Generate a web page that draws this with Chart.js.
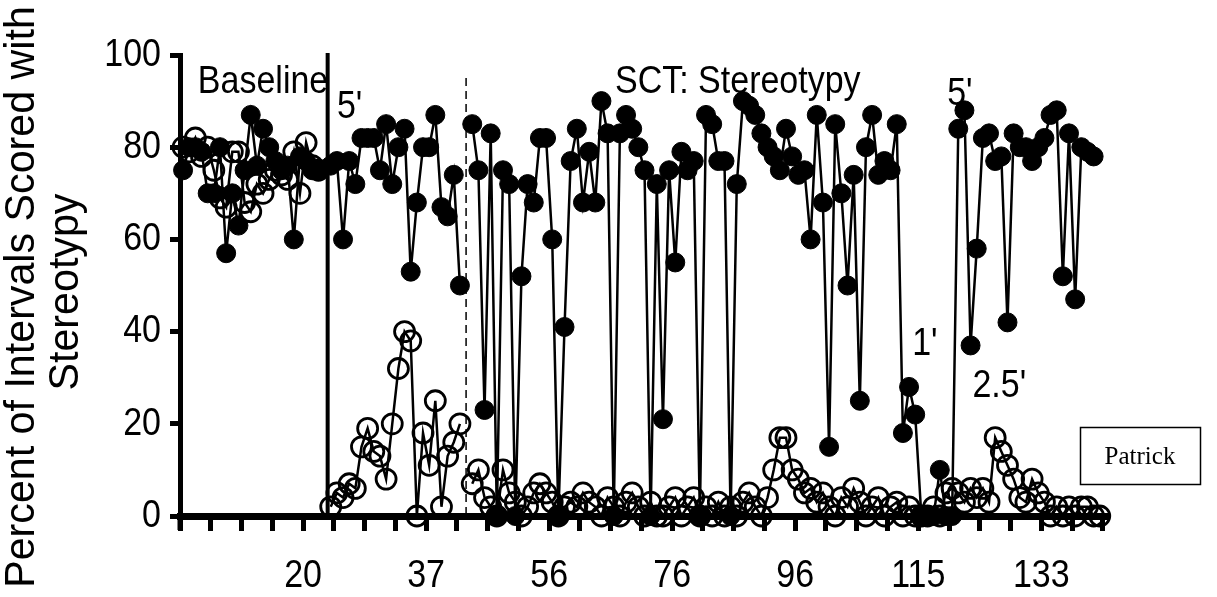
<!DOCTYPE html>
<html>
<head>
<meta charset="utf-8">
<script src="https://cdn.jsdelivr.net/npm/chart.js@4.4.1/dist/chart.umd.min.js"></script>
<style>
  html, body { margin: 0; padding: 0; background: #fff; }
</style>
</head>
<body>
<canvas id="chart" width="1217" height="597"></canvas>
<script>
// Session-by-session percentages, one slot per category (null = phase break)
const filledPct = [
  75, 80, 80, 79, 70, 70, 80, 57, 70, 63, 75, 87, 76, 84, 80, 77, 75, 76, 60, 78, 77, 75, 75,
  null,
  76, 77, 60, 77, 72, 82, 82, 82, 75, 85, 72, 80, 84, 53, 68, 80, 80, 87, 67, 65, 74, 50,
  null,
  85, 75, 23, 83, 0, 75, 72, 0, 52, 72, 68,
  82, 82, 60, 0, 41, 77, 84, 68, 79, 68,
  90, 83, 0, 83, 87, 84, 80, 75, 0, 72,
  21, 75, 55, 79, 75, 77, 0, 87, 85, 77,
  77, 0, 72, 90, 89, 87, 83, 80, 78, 75,
  84, 78, 74, 75, 60, 87, 68, 15, 85, 70,
  50, 74, 25, 80, 87, 74, 77, 75, 85, 18,
  28, 22, 0, 0, 0, 10, 0, 0, 84, 88,
  37, 58, 82, 83, 77, 78, 42, 83, 80, 80,
  77, 80, 82, 87, 88, 52, 83, 47, 80, 79, 78,
  null
];

const openPct = [
  80, 79, 82, 78, 80, 75, 69, 67, 79, 79, 68, 66, 72, 70, 73, 75, 74, 73, 79, 70, 81, 76, 75,
  null,
  2, 5, 4, 7, 6, 15, 19, 14, 13, 8, 20, 32, 40, 38, 0, 18, 11, 25, 2, 13, 16, 20,
  null,
  7, 10, 4, 2, 0, 10, 5, 3, 0, 2,
  5, 7, 5, 3, 0, 2, 3, 2, 5, 3,
  2, 0, 4, 2, 0, 3, 5, 2, 0, 3,
  0, 0, 2, 4, 0, 2, 4, 0, 2, 0,
  3, 0, 2, 0, 3, 5, 2, 0, 4, 10,
  17, 17, 10, 8, 5, 6, 3, 5, 2, 0,
  4, 2, 6, 3, 0, 2, 4, 0, 2, 3,
  0, 2, 0, 0, 0, 2, 0, 5, 6, 5,
  3, 6, 4, 6, 3, 17, 14, 11, 8, 4,
  3, 8, 5, 3, 0, 2, 0, 2, 0, 2,
  2, 0, 0
];

// Category axis: tick marks every 5 slots, session labels every 20
const tickSlots = [0, 5, 10, 15, 20, 25, 30, 35, 40, 45, 50, 55, 60, 65, 70, 75,
  80, 85, 90, 95, 100, 105, 110, 115, 120, 125, 130, 135, 140, 145, 150];
const labelSlots = [20, 40, 60, 80, 100, 120, 140];
const sessionLabels = ['20', '37', '56', '76', '96', '115', '133'];

// Phase change lines (slot positions) and condition notes
const phaseSolid = 24;
const phaseDashed = 46.5;
const notes = [
  { text: 'Baseline', x: 2.9, y: 91.8 },
  { text: "5'", x: 25.5, y: 86.3 },
  { text: 'SCT: Stereotypy', x: 70.7, y: 91.8 },
  { text: "5'", x: 124.7, y: 89.2 },
  { text: "1'", x: 119, y: 34.9 },
  { text: "2.5'", x: 128.8, y: 25.8 }
];

const toPoints = arr => arr.map((v, i) => ({ x: i + 0.5, y: v }));

const FONT = '"Liberation Sans", Arial, sans-serif';
const STRETCH = 1.15; // text is drawn a little taller than wide

function tallText(ctx, text, px, py) {
  ctx.save();
  ctx.translate(px, py);
  ctx.scale(1, STRETCH);
  ctx.fillText(text, 0, 0);
  ctx.restore();
}

const decor = {
  id: 'decor',
  beforeDatasetsDraw(chart) {
    const { ctx, scales: { x, y } } = chart;
    ctx.save();
    ctx.strokeStyle = '#000';
    // y axis runs on below the x axis
    ctx.lineWidth = 5;
    ctx.beginPath();
    ctx.moveTo(x.left, y.bottom);
    ctx.lineTo(x.left, y.bottom + 14);
    ctx.stroke();
    // solid phase line
    ctx.lineWidth = 4;
    ctx.beginPath();
    ctx.moveTo(x.getPixelForValue(phaseSolid), y.getPixelForValue(100) - 2);
    ctx.lineTo(x.getPixelForValue(phaseSolid), y.getPixelForValue(0));
    ctx.stroke();
    // dashed phase line
    ctx.lineWidth = 1.5;
    ctx.setLineDash([8, 5]);
    ctx.beginPath();
    ctx.moveTo(x.getPixelForValue(phaseDashed), y.getPixelForValue(95));
    ctx.lineTo(x.getPixelForValue(phaseDashed), y.getPixelForValue(0));
    ctx.stroke();
    ctx.restore();
  },
  afterDraw(chart) {
    const { ctx, scales: { x, y } } = chart;
    ctx.save();
    ctx.fillStyle = '#000';

    // condition notes
    ctx.font = '34px ' + FONT;
    ctx.textAlign = 'left';
    ctx.textBaseline = 'alphabetic';
    notes.forEach(n => {
      tallText(ctx, n.text, x.getPixelForValue(n.x), y.getPixelForValue(n.y));
    });

    // x axis session labels
    ctx.font = '34px ' + FONT;
    ctx.textAlign = 'center';
    labelSlots.forEach((slot, k) => {
      tallText(ctx, sessionLabels[k], x.getPixelForValue(slot), 587);
    });

    // y axis tick labels
    ctx.textAlign = 'right';
    ctx.textBaseline = 'middle';
    [0, 20, 40, 60, 80, 100].forEach(v => {
      tallText(ctx, String(v), 161, y.getPixelForValue(v));
    });

    // y axis title, two rotated lines
    ctx.font = '40px ' + FONT;
    ctx.textAlign = 'center';
    ctx.textBaseline = 'middle';
    ctx.save();
    ctx.translate(22, 297);
    ctx.rotate(-Math.PI / 2);
    ctx.scale(1.03, 1.05);
    ctx.fillText('Percent of Intervals Scored with', 0, 0);
    ctx.restore();
    ctx.save();
    ctx.translate(66, 292);
    ctx.rotate(-Math.PI / 2);
    ctx.scale(1.03, 1.05);
    ctx.fillText('Stereotypy', 0, 0);
    ctx.restore();

    // participant box
    ctx.lineWidth = 1.5;
    ctx.strokeRect(1080.5, 427.5, 120, 57);
    ctx.font = '25px "Liberation Serif", "Times New Roman", serif';
    ctx.textAlign = 'center';
    ctx.fillText('Patrick', 1140, 457);
    ctx.restore();
  }
};

new Chart(document.getElementById('chart'), {
  type: 'line',
  data: {
    datasets: [
      {
        label: 'Stereotypy',
        data: toPoints(filledPct),
        borderColor: '#000',
        borderWidth: 2.5,
        pointRadius: 9.5,
        pointBackgroundColor: '#000',
        pointBorderColor: '#000',
        pointBorderWidth: 1,
        spanGaps: false,
        tension: 0,
        clip: false
      },
      {
        label: 'Other',
        data: toPoints(openPct),
        borderColor: '#000',
        borderWidth: 2.5,
        pointRadius: 10,
        pointBackgroundColor: 'rgba(0,0,0,0)',
        pointBorderColor: '#000',
        pointBorderWidth: 2.8,
        spanGaps: false,
        tension: 0,
        clip: false
      }
    ]
  },
  options: {
    responsive: false,
    animation: false,
    layout: { padding: { left: 0, right: 108, top: 55, bottom: 0 } },
    plugins: { legend: { display: false }, tooltip: { enabled: false } },
    scales: {
      x: {
        type: 'linear',
        min: 0,
        max: 151,
        afterBuildTicks: s => { s.ticks = tickSlots.map(v => ({ value: v })); },
        afterFit: s => { s.height = 81; },
        grid: { drawOnChartArea: false, tickLength: 15, tickWidth: 5, tickColor: '#000' },
        border: { display: true, color: '#000', width: 7 },
        ticks: { display: false }
      },
      y: {
        min: 0,
        max: 100,
        afterFit: s => { s.width = 180; },
        grid: { drawOnChartArea: false, tickLength: 10, tickWidth: 5, tickColor: '#000' },
        border: { display: true, color: '#000', width: 5 },
        ticks: { stepSize: 20, display: false }
      }
    }
  },
  plugins: [decor]
});
</script>
</body>
</html>
